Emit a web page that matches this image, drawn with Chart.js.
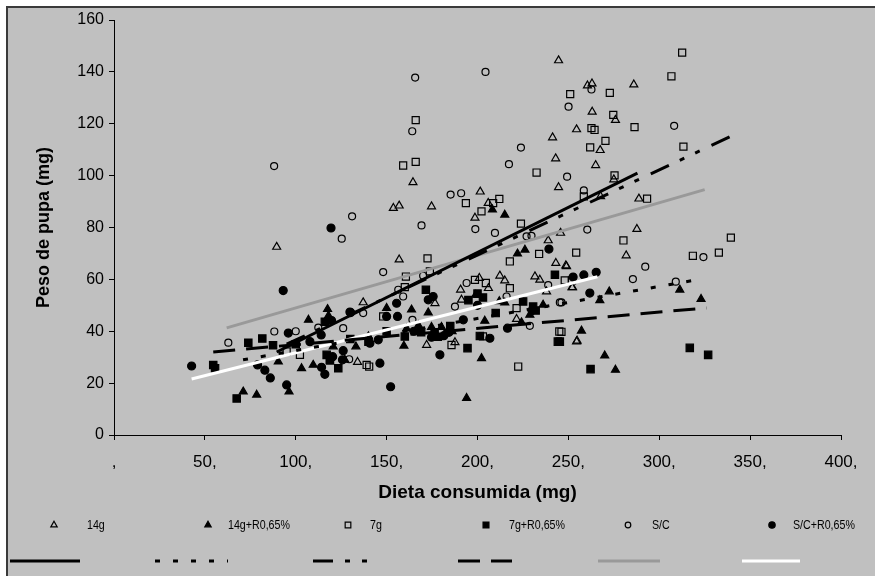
<!DOCTYPE html>
<html><head><meta charset="utf-8">
<script src="https://cdn.jsdelivr.net/npm/chart.js@4.4.1/dist/chart.umd.min.js"></script>
<style>html,body{margin:0;padding:0;background:#fff}#wrap{width:875px;height:576px;position:relative}</style>
</head><body><div id="wrap"><canvas id="c" width="875" height="576"></canvas></div>
<script>
// ---- data (x = dieta consumida mg, y = peso de pupa mg) ----
const seriesNames = ["14g", "14g+R0,65%", "7g", "7g+R0,65%", "S/C", "S/C+R0,65%"];
const xTickLabels = [",", "50,", "100,", "150,", "200,", "250,", "300,", "350,", "400,"];
const yTicks = [0, 20, 40, 60, 80, 100, 120, 140, 160];

const s14g = [[89.5,72.5],[244.6,144.4],[254.5,117.8],[241.3,114.7],[243,106.6],[244.6,95.5],[164.5,97.4],[201.5,93.8],[260.5,134.7],[263,135.5],[286,135.1],[263.1,124.6],[275.9,121.4],[267.5,109.8],[265,104],[275,98.5],[267.7,92],[288.8,91.1],[287.7,79.4],[281.8,69.2],[249,65],[252.3,56.9],[254.8,36.3],[153.7,87.5],[156.9,88.4],[174.7,88.1],[205.9,89.4],[198.6,83.7],[238.9,75],[245.7,77.9],[156.9,67.6],[137.1,51.1],[176.6,50.8],[201,60.5],[206,56.6],[190.7,56],[191.2,52.1],[212.3,61.4],[221.5,44.7],[243.1,66.3],[248.6,65.3],[238,55.3],[231.6,61.1],[234.3,59.8],[252,56.9],[254.5,36],[134,28.1],[172,34.7],[187.6,35.7],[215,59.5]];
const s14gR = [[71.1,16.7],[78.5,15.5],[96.3,16.7],[90.4,28.3],[103.2,25.7],[109.6,27],[107,44.4],[117.5,48.5],[118,46],[127,29],[133.1,34.1],[120.6,34.1],[150,48.9],[163.7,48.3],[172.9,47.2],[159.5,34.4],[161,41],[167.5,42.3],[174.7,41.6],[180.2,41.6],[208.2,86.9],[215,84.9],[226.1,71.4],[222,69.9],[202.2,29.6],[194,14.2],[212,51.5],[215,51],[236.1,50.2],[228.8,46.3],[224.2,43.4],[272.5,55.3],[267.3,51.9],[311.3,56],[323,52.4],[257.2,40.2],[270,30.6],[275.9,25.1],[199,54],[204,44],[140,38],[186,40]];
const s7g = [[251,131.4],[166,121.4],[159.1,103.9],[166,105.3],[232.5,101.2],[212,91],[312.6,147.4],[306.7,138.3],[272.8,131.9],[274.7,123.4],[262.7,118.3],[264.4,117.6],[286.4,118.7],[270.4,113.4],[262,110.9],[313.3,111.2],[275.4,100.1],[258.5,92],[293.3,91.1],[339.4,76.1],[280.3,75],[254.3,70.3],[318.5,69.1],[332.8,70.3],[248,59.6],[246.2,39.8],[193.6,89.4],[208.6,89.4],[202.2,86.2],[223.9,81.5],[233.9,69.8],[217.8,66.9],[172.5,68.1],[160.6,61.1],[173.8,63.1],[160,57],[148.1,45.7],[198.6,59.8],[204.6,58.6],[217.8,56.6],[221.5,48.9],[245,39.9],[203,38],[222.4,26.4],[139,27],[140.4,26.4],[185.7,34.7],[95,32.2],[102.3,30.9],[118.8,28.7],[252,59.6]];
const s7gR = [[73.9,35.6],[81.6,37.2],[87.5,34.6],[54.6,27],[55.6,25.7],[67.5,14.1],[123.4,25.7],[116,43.7],[117,30.9],[118.8,29],[171.6,56],[169,39.6],[176.4,39.6],[178.2,37.9],[195,52],[200,54.5],[203,53],[225.1,51.5],[230.6,49.5],[232,48],[242.6,61.8],[244.2,36],[245.3,36],[201.3,38.2],[194.5,33.5],[262.2,25.4],[316.8,33.6],[326.9,30.9],[150,40],[160,38],[185,42],[140,36],[210,47],[100,35],[130,37]];
const sSC = [[88.1,103.7],[125.3,75.7],[131,84.3],[165.7,137.8],[204.4,140],[250.1,126.6],[164.1,117.1],[223.9,110.8],[217.3,104.4],[249.3,99.6],[185.2,92.7],[191,93.2],[262.7,133.2],[308.2,119.2],[258.5,94.3],[260.4,79.2],[324.3,68.6],[292.3,64.9],[285.5,60.1],[309.1,59.1],[246.2,51.1],[169.2,80.8],[198.8,79.4],[209.6,77.9],[227,76.6],[229.7,76.8],[148.1,62.8],[170.1,61.4],[156.4,56],[159.1,53.4],[137.1,47],[164.2,44.4],[194,58.6],[187.6,49.5],[216,53.4],[228.8,42.1],[238.9,57.8],[245.3,51.1],[129.4,29.2],[62.9,35.6],[88.2,39.9],[112.4,41.4],[126.1,41.2],[100,40]];
const sSCR = [[119.4,79.8],[93.1,55.7],[42.7,26.6],[95.9,39.3],[95,19.3],[114.2,26.1],[116,23.4],[79,27],[83,25],[86,22],[119.7,44.1],[129.8,47.4],[107.8,36],[114,38.6],[126.1,32.5],[239.3,71.7],[172.9,52.1],[175.6,53.4],[130.2,47.2],[155.5,50.8],[150,45.7],[156,45.7],[252.6,60.9],[258.5,61.7],[265.3,62.7],[261.8,54.7],[216.5,41.2],[206.8,37.3],[179.3,30.9],[146.3,27.7],[152.2,18.6],[125.7,29],[120.3,30.2],[140.8,35.4],[145.4,36.7],[174.7,37.7],[181.5,38.3],[184.3,39.6],[192.2,44.4],[165,40],[200,50],[230,48]];

// linear trend lines: [x start, y start], [x end, y end]
const trend14g  = [[89.5,32],[288,101]];
const trend14gR = [[71,29],[322,60]];
const trend7g   = [[95,35],[339,115]];
const trend7gR  = [[54.6,32],[326,49]];
const trendSC   = [[62,41.3],[325,94.6]];
const trendSCR  = [[42.7,21.6],[266,61]];

const toXY = a => a.map(p => ({x: p[0], y: p[1]}));

const markers = [
  {data: s14g, style: 'triangle', fill: false, r: 4.6},
  {data: s14gR, style: 'triangle', fill: true, r: 4.6},
  {data: s7g, style: 'rect', fill: false, r: 5},
  {data: s7gR, style: 'rect', fill: true, r: 5.2},
  {data: sSC, style: 'circle', fill: false, r: 3.5},
  {data: sSCR, style: 'circle', fill: true, r: 4},
];
const trends = [
  {data: trend14g, color: '#000', dash: []},
  {data: trend14gR, color: '#000', dash: [5, 13]},
  {data: trend7g, color: '#000', dash: [20, 12, 5, 12, 5, 13]},
  {data: trend7gR, color: '#000', dash: [22, 11]},
  {data: trendSC, color: '#999999', dash: []},
  {data: trendSCR, color: '#ffffff', dash: []},
];

const datasets = [];
markers.forEach((m, i) => datasets.push({
  type: 'scatter', label: seriesNames[i], data: toXY(m.data), order: 1,
  pointStyle: m.style, pointRadius: m.r, pointHoverRadius: m.r,
  pointBorderColor: '#000', pointBorderWidth: 1.2,
  pointBackgroundColor: m.fill ? '#000' : 'rgba(0,0,0,0)'
}));
trends.forEach((t, i) => datasets.push({
  type: 'line', label: 'trend ' + seriesNames[i], data: toXY(t.data), order: 0,
  borderColor: t.color, borderWidth: 3, borderDash: t.dash, pointRadius: 0,
  fill: false, tension: 0
}));

const frame = {
  id: 'frame',
  beforeDraw(chart) {
    const c = chart.ctx;
    c.save();
    c.fillStyle = '#ffffff'; c.fillRect(0, 0, 875, 576);
    c.fillStyle = '#c0c0c0'; c.fillRect(7, 7, 868, 569);
    c.strokeStyle = '#3a3a3a'; c.lineWidth = 2;
    c.beginPath(); c.moveTo(7, 576); c.lineTo(7, 7); c.lineTo(875, 7); c.stroke();
    c.restore();
  }
};

function drawMarker(c, style, fill, x, y, r) {
  c.beginPath();
  if (style === 'triangle') {
    c.moveTo(x, y - r); c.lineTo(x + r * 0.866, y + r * 0.5); c.lineTo(x - r * 0.866, y + r * 0.5); c.closePath();
  } else if (style === 'rect') {
    const s = r * 0.7071; c.rect(x - s, y - s, 2 * s, 2 * s);
  } else { c.arc(x, y, r, 0, Math.PI * 2); }
  c.lineWidth = 1.2; c.strokeStyle = '#000';
  if (fill) { c.fillStyle = '#000'; c.fill(); }
  c.stroke();
}

const legendMarkerX = [54, 208, 348, 486, 628, 772];
const legendTextX = [87, 228, 370, 509, 652, 793];
const legendLineX = [[10, 80], [155, 228], [313, 368], [458, 512], [598, 660], [742, 800]];
const legendPlugin = {
  id: 'legend2',
  afterDraw(chart) {
    const c = chart.ctx;
    c.save();
    const y1 = 525, y2 = 561;
    markers.forEach((m, i) => {
      drawMarker(c, m.style, m.fill, legendMarkerX[i], y1, m.r * 0.8);
      c.save();
      c.translate(legendTextX[i], y1);
      c.scale(0.82, 1);
      c.font = '13px "Liberation Sans", Arial, sans-serif';
      c.textBaseline = 'middle'; c.fillStyle = '#000';
      c.fillText(seriesNames[i], 0, 0);
      c.restore();
    });
    trends.forEach((t, i) => {
      c.beginPath(); c.setLineDash(t.dash); c.strokeStyle = t.color; c.lineWidth = 3;
      c.moveTo(legendLineX[i][0], y2); c.lineTo(legendLineX[i][1], y2); c.stroke();
    });
    c.restore();
  }
};

new Chart(document.getElementById('c'), {
  data: {datasets},
  options: {
    responsive: false, animation: false, devicePixelRatio: 1,
    layout: {padding: {left: 0, top: 20, right: 34, bottom: 66}},
    plugins: {legend: {display: false}, tooltip: {enabled: false}},
    scales: {
      x: {
        type: 'linear', min: 0, max: 400,
        afterFit(s) { s.height = 75; },
        afterBuildTicks(s) { s.ticks = xTickLabels.map((_, i) => ({value: i * 50})); },
        ticks: {callback: (v, i) => xTickLabels[i], color: '#000', padding: 12,
          font: {family: '"Liberation Sans", Arial, sans-serif', size: 17}, maxRotation: 0, autoSkip: false},
        grid: {drawOnChartArea: false, drawTicks: true, tickLength: 5, color: '#000'},
        border: {display: true, color: '#000', width: 1},
        title: {display: true, text: 'Dieta consumida (mg)', color: '#000',
          font: {family: '"Liberation Sans", Arial, sans-serif', size: 19, weight: 'bold'}, padding: {top: 0, bottom: 6}}
      },
      y: {
        type: 'linear', min: 0, max: 160,
        afterFit(s) { s.width = 114; },
        afterBuildTicks(s) { s.ticks = yTicks.map(v => ({value: v})); },
        ticks: {color: '#000', padding: 5,
          font: {family: '"Liberation Sans", Arial, sans-serif', size: 16}},
        grid: {drawOnChartArea: false, drawTicks: true, tickLength: 5, color: '#000'},
        border: {display: true, color: '#000', width: 1},
        title: {display: true, text: 'Peso de pupa (mg)', color: '#000',
          font: {family: '"Liberation Sans", Arial, sans-serif', size: 18, weight: 'bold'}, padding: {top: 33, bottom: 0}}
      }
    }
  },
  plugins: [frame, legendPlugin]
});
</script></body></html>
